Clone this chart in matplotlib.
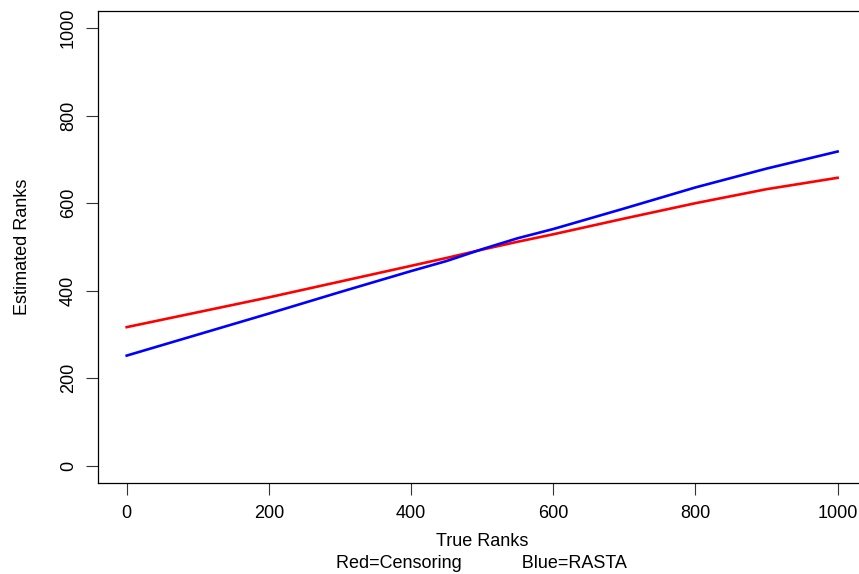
import matplotlib
matplotlib.use("Agg")
from matplotlib import pyplot as plt

plt.rcParams['font.family'] = ['Liberation Sans', 'DejaVu Sans']

# values
true_rank = [0, 100, 200, 300, 400, 450, 500, 550, 600, 700, 800, 900, 1000]
censoring = [317, 351, 385, 421, 457, 475, 494, 512, 529, 565, 600, 632, 658]
rasta = [252, 300, 348, 397, 445, 468, 495, 520, 541, 588, 636, 679, 718]

xticks = [0, 200, 400, 600, 800, 1000]
yticks = [0, 200, 400, 600, 800, 1000]

fig = plt.figure(figsize=(8.59, 5.74), dpi=100)
ax = fig.add_axes([0.1144, 0.1577, 0.8938, 0.824])

ax.plot(true_rank, censoring, color='red', lw=1.9)
ax.plot(true_rank, rasta, color='blue', lw=1.9)

ax.set_xlim(-40, 1040)
ax.set_ylim(-40, 1040)
ax.set_xticks(xticks)
ax.set_yticks(yticks)
ax.set_yticklabels([str(v) for v in yticks], rotation=90, va='center')
ax.tick_params(direction='out', length=8.4, width=0.8, labelsize=13, pad=7, color='#333333')

for s in ax.spines.values():
    s.set_linewidth(0.9)

ax.set_xlabel('True Ranks', fontsize=13, labelpad=8)
ax.set_ylabel('Estimated Ranks', fontsize=13, labelpad=21)
fig.text(481.5 / 859, 1 - 563.5 / 574, 'Red=Censoring            Blue=RASTA',
         ha='center', va='center', fontsize=13)

fig.savefig('out.png', dpi=100)
